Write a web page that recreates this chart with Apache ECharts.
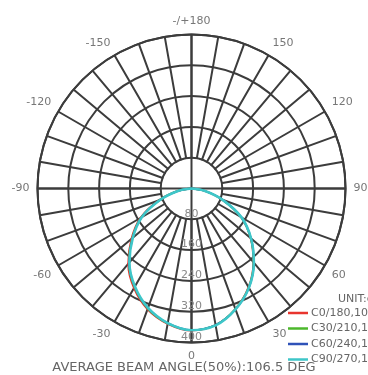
<!DOCTYPE html>
<html>
<head>
<meta charset="utf-8">
<script src="https://cdn.jsdelivr.net/npm/echarts@6/dist/echarts.min.js"></script>
<style>
html,body{margin:0;padding:0;background:#fff;}
#chart{width:368px;height:375px;}
</style>
</head>
<body>
<div id="chart"></div>
<script>
// Gamma angles (0 = straight down, positive toward the right side)
const gammaAngles = [-90, -80, -70, -60, -50, -40, -30, -20, -10, 0, 10, 20, 30, 40, 50, 60, 70, 80, 90];
// Intensity values (cd) for each C-plane pair
const c0_180  = [0, 38, 92, 154, 204, 256, 299, 334, 357, 369, 360, 333, 296, 250, 200, 148, 84, 33, 0];
const c30_210 = [0, 36, 89, 151, 201, 253, 296, 332, 356, 368, 360, 333, 297, 251, 201, 149, 85, 34, 0];
const c60_240 = [0, 35, 88, 150, 200, 252, 295, 331, 355, 368, 360, 334, 298, 252, 202, 150, 86, 34, 0];
const c90_270 = [0, 34, 87, 149, 199, 251, 294, 330, 355, 368, 361, 334, 298, 252, 202, 150, 86, 34, 0];
const seriesNames = ['C0/180,106.3DEG', 'C30/210,106.5DEG', 'C60/240,106.6DEG', 'C90/270,106.7DEG'];
const seriesColors = ['#e8352e', '#4cb82c', '#2f52b8', '#3ec6c8'];
const radiusTicks = [80, 160, 240, 320, 400];
const angleLabelStep = 30;
const unitText = 'UNIT:cd';
const titleText = 'AVERAGE BEAM ANGLE(50%):106.5 DEG';

const allValues = [c0_180, c30_210, c60_240, c90_270];
function toPolar(vals) {
  return gammaAngles.map((a, i) => [vals[i], a < 0 ? a + 360 : a]);
}

const CX = 191.5, CY = 188.5, R = 154;
const gridColor = '#3c3c3c';
const gridW = 2;

const chart = echarts.init(document.getElementById('chart'), null, {renderer: 'canvas'});
const option = {
  animation: false,
  backgroundColor: '#fff',
  title: [
    {text: titleText, left: 'center', top: 356,
     textStyle: {fontFamily: 'DejaVu Sans', fontSize: 13, fontWeight: 'normal', color: '#666'}},
    {text: unitText, left: 333, top: 289,
     textStyle: {fontFamily: 'DejaVu Sans', fontSize: 11, fontWeight: 'normal', color: '#666'}}
  ],
  legend: {
    orient: 'vertical', left: 288, top: 307,
    data: seriesNames, icon: 'rect', itemWidth: 20, itemHeight: 2.5, itemGap: 3.5,
    textStyle: {fontFamily: 'DejaVu Sans', fontSize: 11, color: '#666', lineHeight: 12, padding: [0, 0, 0, -2]},
    padding: 0
  },
  polar: [
    {center: [CX, CY], radius: R},
    {center: [CX, CY], radius: [30, R]},
    {center: [CX, CY], radius: R}
  ],
  angleAxis: [
    {polarIndex: 0, type: 'value', min: 0, max: 360, interval: angleLabelStep, startAngle: 270, clockwise: false,
     axisLine: {show: true, lineStyle: {color: gridColor, width: gridW}},
     axisTick: {show: false}, splitLine: {show: false},
     axisLabel: {show: true, margin: 8, fontFamily: 'DejaVu Sans', fontSize: 11, color: '#777',
       formatter: function (v) { if (v === 360) return ''; if (v === 180) return '-/+180'; return v > 180 ? String(v - 360) : String(v); }}},
    {polarIndex: 1, type: 'value', min: 0, max: 360, interval: 10, startAngle: 270, clockwise: false,
     axisLine: {show: false}, axisTick: {show: false}, axisLabel: {show: false},
     splitLine: {show: true, lineStyle: {color: gridColor, width: gridW}}},
    {polarIndex: 2, type: 'value', min: 0, max: 360, interval: 90, startAngle: 270, clockwise: false,
     axisLine: {show: false}, axisTick: {show: false}, axisLabel: {show: false},
     splitLine: {show: true, lineStyle: {color: gridColor, width: gridW}}}
  ],
  radiusAxis: [
    {polarIndex: 0, type: 'value', min: 0, max: radiusTicks[radiusTicks.length - 1], interval: radiusTicks[0],
     axisLine: {show: false}, axisTick: {show: false},
     splitLine: {show: true, lineStyle: {color: gridColor, width: gridW}},
     axisLabel: {show: true, showMinLabel: false, margin: 0, align: 'center', verticalAlign: 'bottom',
       fontFamily: 'DejaVu Sans', fontSize: 11, color: '#888'}},
    {polarIndex: 1, type: 'value', min: 0, max: 400, show: false, splitLine: {show: false}, axisLabel: {show: false}},
    {polarIndex: 2, type: 'value', min: 0, max: 400, show: false, splitLine: {show: false}, axisLabel: {show: false}}
  ],
  series: allValues.map((vals, i) => ({
    name: seriesNames[i], type: 'line', coordinateSystem: 'polar', polarIndex: 0,
    data: toPolar(vals), showSymbol: false, smooth: 0.3,
    lineStyle: {color: seriesColors[i], width: i === 3 ? 2.6 : 1.8},
    itemStyle: {color: seriesColors[i]}, z: 3 + i
  }))
};
chart.setOption(option);
</script>
</body>
</html>
